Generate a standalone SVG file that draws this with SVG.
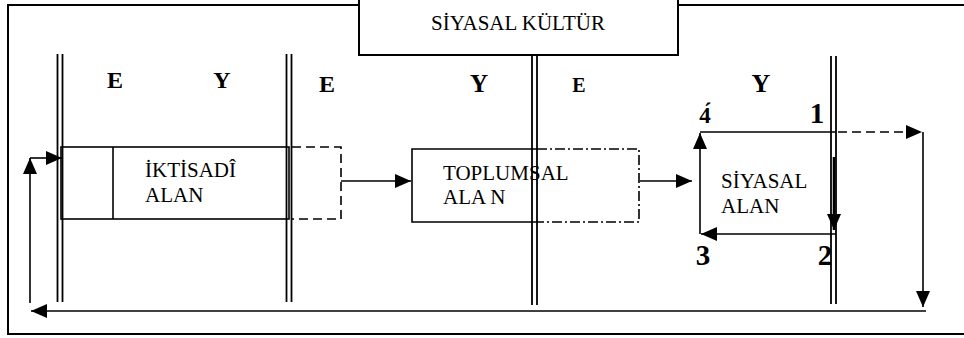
<svg xmlns="http://www.w3.org/2000/svg" width="964" height="338" viewBox="0 0 964 338">
<style>
  .lbl{font-family:"Liberation Serif","Times New Roman",serif;font-size:21px;fill:#000}
  .big{font-family:"Liberation Serif","Times New Roman",serif;font-weight:bold;fill:#000}
  .ln{stroke:#000;stroke-width:1.6;fill:none}
  .dl{stroke:#000;stroke-width:1.8;fill:none}
  .dash{stroke:#000;stroke-width:1.6;fill:none;stroke-dasharray:9,5}
  .dd{stroke:#000;stroke-width:1.6;fill:none;stroke-dasharray:10,3,2,3}
</style>
<defs>
  <marker id="ah" markerUnits="userSpaceOnUse" markerWidth="16" markerHeight="14" refX="16" refY="7" orient="auto">
    <path d="M0,0 L16,7 L0,14 z" fill="#000"/>
  </marker>
</defs>
<rect width="964" height="338" fill="#fff"/>
<rect id="frame" x="8" y="5" width="970" height="329" fill="none" stroke="#000" stroke-width="2"/>

<g id="lanes">
  <line class="dl" x1="57.5" y1="54" x2="57.5" y2="302"/>
  <line class="dl" x1="62.5" y1="54" x2="62.5" y2="302"/>
  <line class="dl" x1="286.5" y1="54" x2="286.5" y2="302"/>
  <line class="dl" x1="291.5" y1="54" x2="291.5" y2="302"/>
  <line class="dl" x1="532" y1="55" x2="532" y2="305"/>
  <line class="dl" x1="537" y1="55" x2="537" y2="305"/>
  <line class="dl" x1="831" y1="56" x2="831" y2="304"/>
  <line class="dl" x1="836" y1="56" x2="836" y2="304"/>
  <text class="big" x="115" y="88" font-size="24" text-anchor="middle">E</text>
  <text class="big" x="222" y="88" font-size="24" text-anchor="middle">Y</text>
  <text class="big" x="327" y="92" font-size="24" text-anchor="middle">E</text>
  <text class="big" x="479" y="92" font-size="25" text-anchor="middle">Y</text>
  <text class="big" x="579" y="92" font-size="20" text-anchor="middle">E</text>
  <text class="big" x="761" y="92" font-size="26" text-anchor="middle">Y</text>
</g>

<g id="title">
  <rect x="359" y="-1" width="319" height="56" fill="#fff" stroke="#000" stroke-width="2"/>
  <text class="lbl" x="518" y="30" text-anchor="middle">SİYASAL KÜLTÜR</text>
</g>

<g id="iktisadi">
  <rect x="61" y="147" width="228" height="72" fill="none" stroke="#000" stroke-width="1.6"/>
  <line class="ln" x1="113" y1="147" x2="113" y2="219"/>
  <path class="dash" d="M292,147 L341,147 L341,219 L292,219"/>
  <text class="lbl" x="145" y="177">İKTİSADÎ</text>
  <text class="lbl" x="145" y="202">ALAN</text>
</g>

<g id="toplumsal">
  <path class="ln" d="M537,149 L412,149 L412,222 L537,222"/>
  <path class="dd" d="M537,149 L639,149 L639,222 L537,222"/>
  <text class="lbl" x="443" y="180">TOPLUMSAL</text>
  <text class="lbl" x="443" y="204">ALA N</text>
</g>

<g id="siyasal">
  <text class="lbl" x="721" y="188">SİYASAL</text>
  <text class="lbl" x="721" y="213">ALAN</text>
  <text class="big" x="705" y="123" font-size="23" text-anchor="middle">4&#x301;</text>
  <text class="big" x="817" y="123" font-size="29" text-anchor="middle">1</text>
  <text class="big" x="703" y="265" font-size="29" text-anchor="middle">3</text>
  <text class="big" x="825" y="265" font-size="29" text-anchor="middle">2</text>
</g>

<g id="connectors">
  <line class="ln" x1="341" y1="181" x2="411" y2="181" marker-end="url(#ah)"/>
  <line class="ln" x1="640" y1="181" x2="692" y2="181" marker-end="url(#ah)"/>
  <line class="ln" x1="700" y1="234" x2="700" y2="133" marker-end="url(#ah)"/>
  <line class="ln" x1="700" y1="132" x2="836" y2="132"/>
  <line class="dash" x1="838" y1="132" x2="922" y2="132" marker-end="url(#ah)"/>
  <line class="ln" x1="923" y1="132" x2="923" y2="307" marker-end="url(#ah)"/>
  <line class="ln" x1="926" y1="311" x2="31" y2="311" marker-end="url(#ah)"/>
  <line class="ln" x1="30" y1="303" x2="30" y2="158" marker-end="url(#ah)"/>
  <line class="ln" x1="30" y1="158" x2="62" y2="158" marker-end="url(#ah)"/>
  <line stroke="#000" stroke-width="2.6" x1="834" y1="157" x2="834" y2="230" marker-end="url(#ah)"/>
  <line class="ln" x1="836" y1="234" x2="701" y2="234" marker-end="url(#ah)"/>
</g>
</svg>
